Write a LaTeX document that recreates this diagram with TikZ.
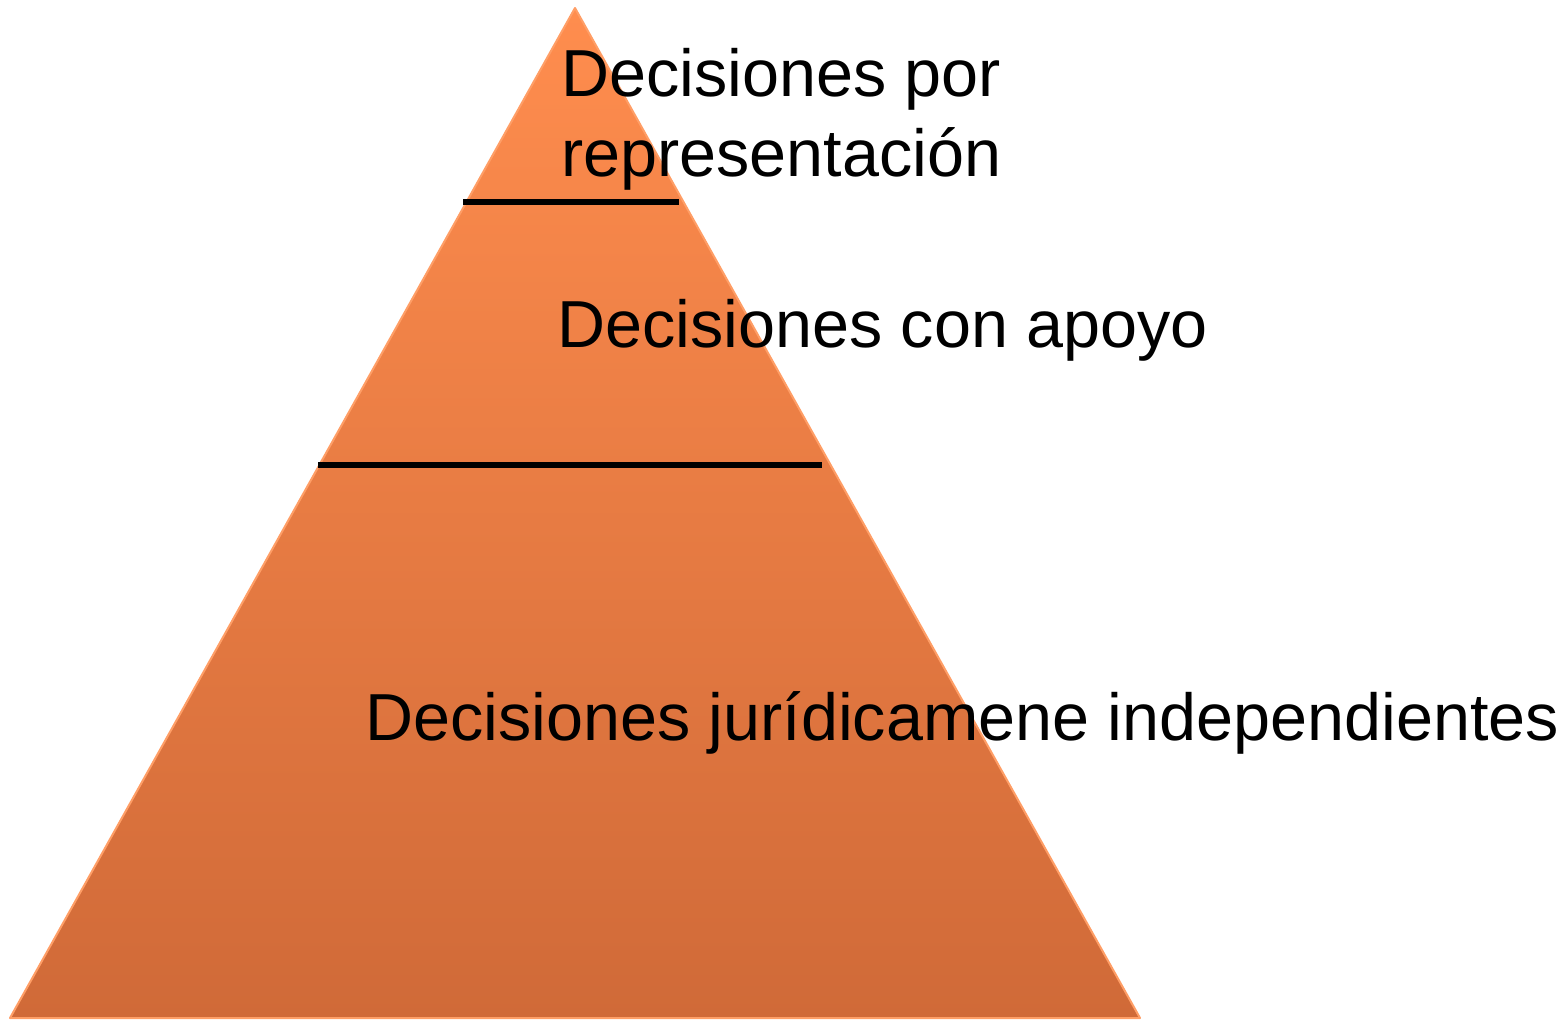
\documentclass[tikz,border=0pt]{standalone}
\usepackage{fontspec}
\setmainfont{Liberation Sans}
\definecolor{topor}{HTML}{FF8D4E}
\definecolor{botor}{HTML}{D06A38}
\definecolor{edgeor}{HTML}{FF9E66}
\begin{document}
\begin{tikzpicture}[x=1pt,y=-1pt,
  lbl/.style={anchor=base west,inner sep=0pt,font=\fontsize{66.5}{80}\selectfont},
  divider/.style={line width=5.5pt,black}]
\useasboundingbox (0,0) rectangle (1566,1021);
\coordinate (apex) at (575,8);
\coordinate (bl) at (10,1018);
\coordinate (br) at (1140,1018);
\shade[top color=topor,bottom color=botor] (apex) -- (br) -- (bl) -- cycle;
\draw[edgeor,line width=2pt,line join=round] (apex) -- (br) -- (bl) -- cycle;
\coordinate (l1a) at (463,202);
\coordinate (l1b) at (679,202);
\coordinate (l2a) at (318,465);
\coordinate (l2b) at (822,465);
\draw[divider] (l1a) -- (l1b);
\draw[divider] (l2a) -- (l2b);
\node[lbl] (t1) at (561,96) {Decisiones por};
\node[lbl] (t1b) at (561,176) {representación};
\node[lbl] (t2) at (557,347) {Decisiones con apoyo};
\node[lbl] (t3) at (365,740) {Decisiones jurídicamene independientes};
\end{tikzpicture}
\end{document}
